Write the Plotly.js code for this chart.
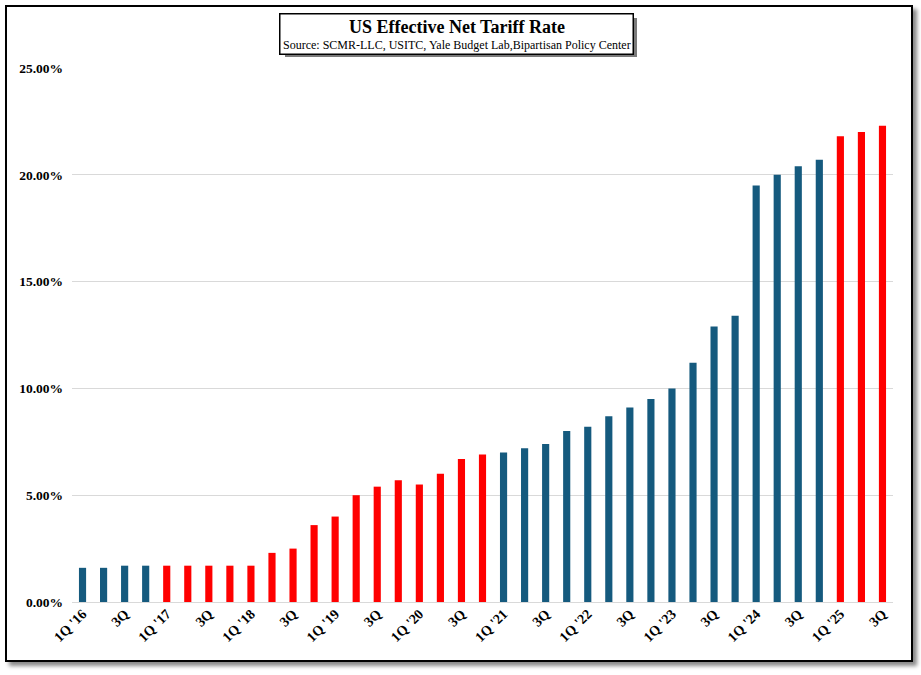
<!DOCTYPE html>
<html>
<head>
<meta charset="utf-8">
<script src="https://cdn.plot.ly/plotly-3.0.1.min.js"></script>
<style>
  html, body { margin: 0; padding: 0; background: #ffffff; }
  #frame { position: absolute; left: 5px; top: 5px; width: 904px; height: 653px;
           border: 2px solid #000; background: #fff; box-shadow: 4px 4px 4px #8a8a8a; }
  #chart { position: absolute; left: 0; top: 0; width: 921px; height: 675px; }
</style>
</head>
<body>
<div id="frame"></div>
<div id="chart"></div>
<script>
// ---- data ----
const quarters = [
  "1Q '16","2Q '16","3Q '16","4Q '16",
  "1Q '17","2Q '17","3Q '17","4Q '17",
  "1Q '18","2Q '18","3Q '18","4Q '18",
  "1Q '19","2Q '19","3Q '19","4Q '19",
  "1Q '20","2Q '20","3Q '20","4Q '20",
  "1Q '21","2Q '21","3Q '21","4Q '21",
  "1Q '22","2Q '22","3Q '22","4Q '22",
  "1Q '23","2Q '23","3Q '23","4Q '23",
  "1Q '24","2Q '24","3Q '24","4Q '24",
  "1Q '25","2Q '25","3Q '25"
];
const tariffRate = [
  1.6, 1.6, 1.7, 1.7,
  1.7, 1.7, 1.7, 1.7,
  1.7, 2.3, 2.5, 3.6,
  4.0, 5.0, 5.4, 5.7,
  5.5, 6.0, 6.7, 6.9,
  7.0, 7.2, 7.4, 8.0,
  8.2, 8.7, 9.1, 9.5,
  10.0, 11.2, 12.9, 13.4,
  19.5, 20.0, 20.4, 20.7,
  21.8, 22.0, 22.3
];
const tickLabels = [
  "1Q '16","3Q","1Q '17","3Q","1Q '18","3Q","1Q '19","3Q","1Q '20","3Q",
  "1Q '21","3Q","1Q '22","3Q","1Q '23","3Q","1Q '24","3Q","1Q '25","3Q"
];
const redYears = [2017, 2018, 2019, 2020, 2025];
const titleText = "US Effective Net Tariff Rate";
const subtitleText = "Source: SCMR-LLC, USITC, Yale Budget Lab,Bipartisan Policy Center";

// ---- styling ----
const BLUE = '#155a7e';
const RED = '#ff0000';
const barColors = quarters.map(q => {
  const yr = 2000 + parseInt(q.slice(-2), 10);
  return redYears.includes(yr) ? RED : BLUE;
});
const tickVals = quarters.filter((q, i) => i % 2 === 0);

const serif = 'Liberation Serif, Times New Roman, serif';

const trace = {
  type: 'bar',
  x: quarters,
  y: tariffRate,
  marker: { color: barColors, line: { width: 0 } },
  hoverinfo: 'skip'
};

// title box geometry (paper coords relative to plot area)
const boxX = 0.4685, boxY = 1.0637;

const layout = {
  width: 921,
  height: 675,
  margin: { l: 72, r: 28, t: 68, b: 73 },
  paper_bgcolor: 'rgba(0,0,0,0)',
  plot_bgcolor: 'rgba(0,0,0,0)',
  bargap: 0.66,
  showlegend: false,
  xaxis: {
    type: 'category',
    tickmode: 'array',
    tickvals: tickVals,
    ticktext: tickLabels,
    tickangle: -45,
    tickfont: { family: serif, size: 14, color: '#000', weight: 'bold' },
    showgrid: false,
    zeroline: false,
    showline: false,
    ticks: '',
    range: [-0.5, quarters.length - 0.5]
  },
  yaxis: {
    range: [0, 25],
    dtick: 5,
    tickformat: '.2f',
    ticksuffix: '%',
    tickfont: { family: serif, size: 13.5, color: '#000', weight: 'bold' },
    showgrid: true,
    gridcolor: '#d9d9d9',
    gridwidth: 1,
    zeroline: true,
    zerolinecolor: '#d9d9d9',
    zerolinewidth: 1,
    showline: false,
    ticks: '',
    ticklabelstandoff: 8
  },
  annotations: [
    {
      xref: 'paper', yref: 'paper', x: boxX, y: boxY,
      xanchor: 'center', yanchor: 'middle',
      xshift: 4, yshift: -4,
      width: 350, height: 37,
      text: ' ', showarrow: false,
      bgcolor: '#7a7a7a', borderwidth: 0
    },
    {
      xref: 'paper', yref: 'paper', x: boxX, y: boxY,
      xanchor: 'center', yanchor: 'middle',
      width: 350, height: 37,
      text: ' ', showarrow: false,
      bgcolor: '#ffffff', bordercolor: '#000', borderwidth: 1.5, borderpad: 1
    },
    {
      xref: 'paper', yref: 'paper', x: boxX, y: boxY,
      xanchor: 'center', yanchor: 'middle',
      yshift: 7,
      showarrow: false,
      font: { family: serif, size: 18, color: '#000', weight: 'bold' },
      text: titleText
    },
    {
      xref: 'paper', yref: 'paper', x: boxX, y: boxY,
      xanchor: 'center', yanchor: 'middle',
      yshift: -11,
      showarrow: false,
      font: { family: serif, size: 12, color: '#000' },
      text: subtitleText
    }
  ]
};

Plotly.newPlot('chart', [trace], layout, { displayModeBar: false, staticPlot: true });
</script>
</body>
</html>
